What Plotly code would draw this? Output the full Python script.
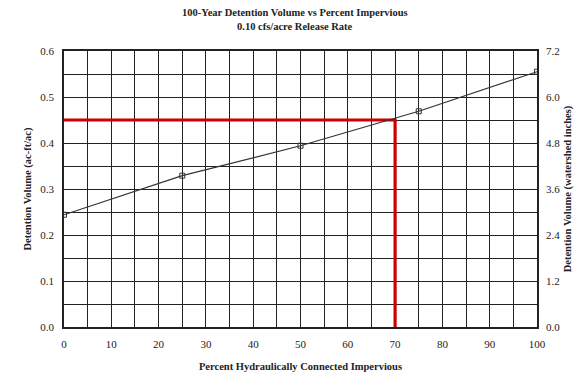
import plotly.graph_objects as go

pct_impervious = [0, 25, 50, 75, 100]
detention_volume = [0.244, 0.329, 0.394, 0.469, 0.555]
target_pct = 70
target_volume = 0.45
right_ticks = [0.0, 1.2, 2.4, 3.6, 4.8, 6.0, 7.2]
title_lines = ["100-Year Detention Volume vs Percent Impervious", "0.10 cfs/acre Release Rate"]

font_family = "Liberation Serif, Times New Roman, serif"
grid_col = "#222222"

fig = go.Figure()
fig.add_trace(go.Scatter(
    x=[0, target_pct, target_pct], y=[target_volume, target_volume, 0],
    mode="lines", line=dict(color="#cc0000", width=3.2), showlegend=False, hoverinfo="skip"))
fig.add_trace(go.Scatter(
    x=pct_impervious, y=detention_volume, mode="lines+markers",
    line=dict(color="#333333", width=1.2),
    marker=dict(symbol="square-open", size=5, color="#333333", line=dict(width=1)),
    showlegend=False))
fig.add_trace(go.Scatter(x=[0], y=[0], yaxis="y2", mode="markers",
                         marker=dict(opacity=0), showlegend=False, hoverinfo="skip"))

fig.update_layout(
    width=579, height=372,
    margin=dict(l=64, r=42, t=51, b=45, autoexpand=False),
    paper_bgcolor="white", plot_bgcolor="white",
    font=dict(family=font_family, size=11, color="#222222"),
    annotations=[
        dict(text="<b>" + title_lines[0] + "</b>", xref="paper", yref="paper",
             x=0.488, y=1.138, xanchor="center", yanchor="middle", showarrow=False,
             font=dict(family=font_family, size=10.5, color="#222222")),
        dict(text="<b>" + title_lines[1] + "</b>", xref="paper", yref="paper",
             x=0.488, y=1.087, xanchor="center", yanchor="middle", showarrow=False,
             font=dict(family=font_family, size=10.5, color="#222222")),
    ],
    xaxis=dict(
        range=[0, 100], dtick=10, tick0=0, showgrid=True, gridcolor=grid_col, gridwidth=1.3,
        minor=dict(dtick=5, showgrid=True, gridcolor=grid_col, gridwidth=1.3),
        showline=True, linecolor=grid_col, linewidth=1.5, mirror=True, zeroline=False,
        ticks="", ticklabelstandoff=6, automargin=False,
        tickfont=dict(family=font_family, size=11),
        title=dict(text="<b>Percent Hydraulically Connected Impervious</b>",
                   font=dict(family=font_family, size=10.5), standoff=15)),
    yaxis=dict(
        range=[0, 0.6], dtick=0.1, tickformat=".1f", showgrid=True, gridcolor=grid_col, gridwidth=1.3,
        minor=dict(dtick=0.05, showgrid=True, gridcolor=grid_col, gridwidth=1.3),
        showline=True, linecolor=grid_col, linewidth=1.5, mirror=True, zeroline=False,
        ticks="", ticklabelstandoff=6, automargin=False, tickfont=dict(family=font_family, size=11),
        title=dict(text="<b>Detention Volume (ac-ft/ac)</b>",
                   font=dict(family=font_family, size=10.5), standoff=7)),
    yaxis2=dict(
        overlaying="y", side="right", range=[0, 7.2], tickvals=right_ticks,
        tickformat=".1f", showgrid=False, zeroline=False, showline=False, ticks="",
        ticklabelstandoff=8, automargin=False,
        tickfont=dict(family=font_family, size=11),
        title=dict(text="<b>Detention Volume (watershed inches)</b>",
                   font=dict(family=font_family, size=10.5), standoff=4)),
)

fig.write_html("out.html")
